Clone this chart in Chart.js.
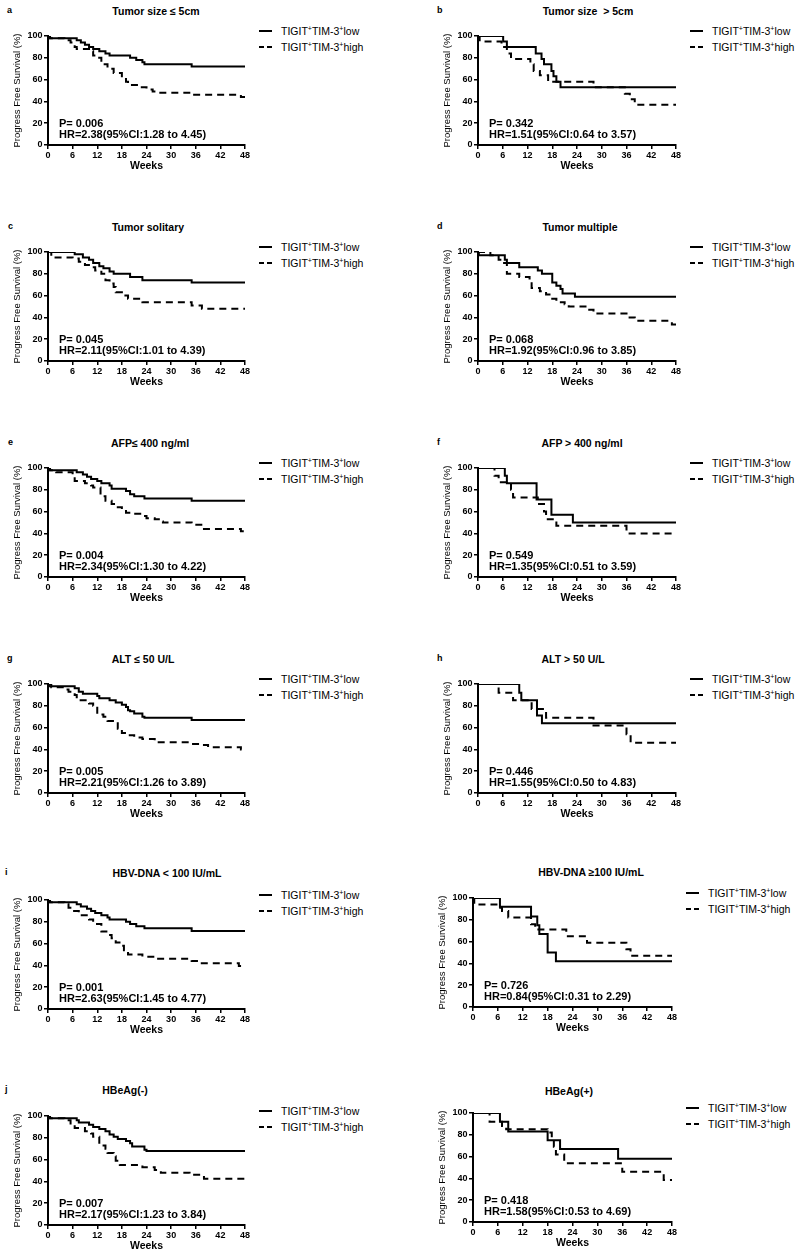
<!DOCTYPE html>
<html>
<head>
<meta charset="utf-8">
<script src="https://cdn.jsdelivr.net/npm/chart.js"></script>
<style>
  body { margin: 0; background: #fff; }
  #fig { position: relative; width: 800px; height: 1251px; font-family: "Liberation Sans", Arial, sans-serif; color: #000; }
  #fig canvas { position: absolute; }
  .txt { position: absolute; white-space: pre; line-height: 1; }
  .title { font-weight: bold; font-size: 10.5px; transform: translate(-50%, -50%); }
  .letter { font-weight: bold; font-size: 9px; transform: translateY(-50%); }
  .stat { font-weight: bold; font-size: 11px; transform: translateY(-50%); }
  .leg { font-size: 10.5px; transform: translateY(-50%); }
  .leg sup { font-size: 7px; vertical-align: 4px; line-height: 0; }
  .seg { position: absolute; height: 2px; background: #000; }
</style>
</head>
<body>
<div id="fig"></div>
<script>
// axis ticks
const weekTicks = [0, 6, 12, 18, 24, 30, 36, 42, 48]
const pfsTicks = [0, 20, 40, 60, 80, 100]

// panel texts
const panelTitles = ["Tumor size \u2264 5cm", "Tumor size  > 5cm", "Tumor solitary", "Tumor multiple",
  "AFP\u2264 400 ng/ml", "AFP > 400 ng/ml", "ALT \u2264 50 U/L", "ALT > 50 U/L",
  "HBV-DNA < 100 IU/mL", "HBV-DNA \u2265100 IU/mL", "HBeAg(-)", "HBeAg(+)"]
const panelLetters = ["a", "b", "c", "d", "e", "f", "g", "h", "i", "", "j", ""]
const pValues = ["0.006", "0.342", "0.045", "0.068", "0.004", "0.549", "0.005", "0.446", "0.001", "0.726", "0.007", "0.418"]
const hrTexts = ["2.38(95%CI:1.28 to 4.45)", "1.51(95%CI:0.64 to 3.57)", "2.11(95%CI:1.01 to 4.39)",
  "1.92(95%CI:0.96 to 3.85)", "2.34(95%CI:1.30 to 4.22)", "1.35(95%CI:0.51 to 3.59)",
  "2.21(95%CI:1.26 to 3.89)", "1.55(95%CI:0.50 to 4.83)", "2.63(95%CI:1.45 to 4.77)",
  "0.84(95%CI:0.31 to 2.29)", "2.17(95%CI:1.23 to 3.84)", "1.58(95%CI:0.53 to 4.69)"]

// Kaplan-Meier steps: [week, % progress free]
const sizeLe5Low = [[0,100],[0.3,98],[7,96],[8,94],[9,92],[10,90],[11,88],[12.5,86],[14,84],[15,82],[20,80],[21.5,78],[23,76],[23.5,74],[35,72],[48,72]]
const sizeLe5High = [[0,100],[0.5,98],[4,96],[5.5,94],[6.5,90],[7,88],[10,86],[11,82],[12,80],[13,74],[14.5,70],[16,66],[18,62],[19,58],[19.5,55],[22,53],[24,51],[25.5,49],[27,48],[35,46],[47,44],[48,44]]
const sizeGt5Low = [[0,100],[6.1,95],[7,90],[14,84],[15.4,79],[16,74],[17.8,68],[18.3,63],[19,58],[20,53],[48,53]]
const sizeGt5High = [[0,100],[0.4,95],[5.7,90],[7,84],[8,79],[12.7,74],[13.5,68],[15,64],[17,58],[28,53],[35.6,47],[36.8,42],[38,37],[48,37]]
const solitaryLow = [[0,100],[6.5,98],[8.5,95],[10,93],[11,90],[12.5,87],[13.5,85],[15,82],[16,80],[20,77],[23,74],[35,72],[48,72]]
const solitaryHigh = [[0,100],[0.8,95],[6,94],[7.5,91],[9,88],[10.5,86],[11.5,83],[13,80],[14,74],[15,71],[16,68],[16.5,63],[18,60],[19.5,57],[23,54],[35,51],[37.5,48],[48,48]]
const multipleLow = [[0,100],[0.2,97],[6.5,93],[7,90],[10,86],[14.5,83],[15.5,80],[18,72],[19,69],[20,66],[20.5,62],[23.5,59],[48,59]]
const multipleHigh = [[0,100],[3,97],[5,93],[6,90],[7,80],[10,77],[12.5,73],[13,67],[15,64],[16.5,61],[18,57],[19,54],[21,52],[22,50],[26.5,47],[28,43.5],[36,40],[38,37],[47,33.5],[48,33.5]]
const afpLe400Low = [[0,100],[0.3,98],[7,96],[8.5,94],[9.5,92],[10.5,90],[12,88],[13,86],[15,84],[15.5,81],[19,79],[20,76],[21,74],[23.5,72],[35,70],[48,70]]
const afpLe400High = [[0,100],[0.5,98],[2,96],[6,93],[6.5,88],[9,86],[10.5,84],[11,82],[12.8,74],[14,70],[15.5,67],[17,64],[18,62],[19,59],[21,58],[23,56],[24,54],[26,53],[27,51],[28,50],[35,48],[38,44],[47,42],[48,42]]
const afpGt400Low = [[0,100],[6.5,93],[7,86],[14.2,71],[17.8,57],[23,50],[48,50]]
const afpGt400High = [[0,100],[4,93],[5,87],[8,80],[8.5,73],[14.5,67],[16,60],[16.5,53],[19,47],[36,40],[48,40]]
const altLe50Low = [[0,100],[0.3,98],[6.5,96],[7.5,93],[8.5,91],[12,89],[12.5,87],[15,85],[16.5,83],[18,81],[19,79],[19.5,76],[20,75],[21,73],[23,70],[23.5,69],[35,67],[48,67]]
const altLe50High = [[0,100],[0.8,97],[4,95],[5,93],[6.5,90],[7,85],[10,82],[11,80],[12,72],[13.5,70],[14.5,66],[16.5,64],[17,59],[18,55],[19,53],[21,51],[23,49.5],[26,46.5],[35,45],[37,44],[39,42],[47,40],[48,40]]
const altGt50Low = [[0,100],[10,92],[10.5,85],[14.3,71],[15.5,64],[48,64]]
const altGt50High = [[0,100],[5,92],[8.5,85],[13,77],[16.5,69],[28,62],[36,54],[37,46],[48,46]]
const hbvLt100Low = [[0,100],[0.3,98],[7,96],[8,94],[9.5,92],[10.5,90],[11.5,88],[13,86],[14.5,84],[15,82],[19,80],[20,78],[21.5,76],[23.5,74],[35,71.5],[48,71.5]]
const hbvLt100High = [[0,100],[0.5,98],[4,96],[5,93],[6,90],[7.5,86],[10,82],[11,78],[13,71],[14.5,68],[15.5,65],[16.5,61],[18,58],[18.5,54],[19.5,50],[23,48],[26,46],[35,44],[37,42],[46.5,39.5],[48,39.5]]
const hbvGe100Low = [[0,100],[6.5,92],[14,83],[15.5,75],[16,67],[18,50],[20,42],[48,42]]
const hbvGe100High = [[0,100],[0.3,94],[6,91],[7,88],[8.5,82],[14,76],[15,71],[22.5,65],[27.5,59],[37,53],[38,47],[48,47]]
const hbeagNegLow = [[0,100],[0.3,98],[7,96],[7.5,94],[10,92],[11,90],[12.5,88],[14,86],[15,83],[16,81],[17,79],[19,77],[20,75],[20.5,72],[23.5,69],[24,68],[48,68]]
const hbeagNegHigh = [[0,100],[0.5,98],[4,96],[5.5,92],[6.5,89],[9,86],[10.5,84],[11,81],[12.5,73],[14,70],[14.5,66],[16,63],[16.5,59],[17.5,55],[23,53],[26,50.5],[27.5,48],[34.5,46],[38,42.5],[48,42.5]]
const hbeagPosLow = [[0,100],[6.5,92],[8.5,83],[18,75],[21,67],[35,58],[48,58]]
const hbeagPosHigh = [[0,100],[4,92],[7,88],[8,85],[18,82],[19,77],[19.5,69],[20,62],[22,54],[36,46],[46,38.5],[48,38.5]]

const lowCurves = [sizeLe5Low, sizeGt5Low, solitaryLow, multipleLow, afpLe400Low, afpGt400Low,
  altLe50Low, altGt50Low, hbvLt100Low, hbvGe100Low, hbeagNegLow, hbeagPosLow]
const highCurves = [sizeLe5High, sizeGt5High, solitaryHigh, multipleHigh, afpLe400High, afpGt400High,
  altLe50High, altGt50High, hbvLt100High, hbvGe100High, hbeagNegHigh, hbeagPosHigh]

// page layout: plot-area edges and title centre for each panel
const layout = [
  { l: 48, r: 245, top: 36, tx: 156, ty: 11, lx: 7 },
  { l: 478, r: 676, top: 36, tx: 588, ty: 11, lx: 437 },
  { l: 48, r: 245, top: 252, tx: 148, ty: 227, lx: 8 },
  { l: 478, r: 676, top: 252, tx: 580, ty: 227, lx: 437 },
  { l: 48, r: 245, top: 468, tx: 150, ty: 443, lx: 8 },
  { l: 478, r: 676, top: 468, tx: 582, ty: 443, lx: 437 },
  { l: 48, r: 245, top: 684, tx: 143, ty: 659, lx: 7 },
  { l: 478, r: 676, top: 684, tx: 573, ty: 659, lx: 437 },
  { l: 48, r: 245, top: 900, tx: 167, ty: 873, lx: 5 },
  { l: 473, r: 672, top: 898, tx: 591, ty: 872, lx: 0 },
  { l: 48, r: 245, top: 1116, tx: 125, ty: 1090, lx: 5 },
  { l: 473, r: 672, top: 1113, tx: 569, ty: 1091, lx: 0 },
]
const PLOT_H = 109
const FONT = '"Liberation Sans", Arial, sans-serif'

const fig = document.getElementById("fig")

function addText(html, x, y, cls) {
  const el = document.createElement("div")
  el.className = "txt " + cls
  el.innerHTML = html
  el.style.left = x + "px"
  el.style.top = y + "px"
  fig.appendChild(el)
}

function addSeg(x, y, w) {
  const el = document.createElement("div")
  el.className = "seg"
  el.style.left = x + "px"
  el.style.top = (y - 1) + "px"
  el.style.width = w + "px"
  fig.appendChild(el)
}

const toXY = pts => pts.map(p => ({ x: p[0], y: p[1] }))

layout.forEach((b, i) => {
  const bottom = b.top + PLOT_H
  const left = b.l - 48
  const top = b.top - 8
  const cv = document.createElement("canvas")
  cv.width = b.r - left + 10
  cv.height = 8 + PLOT_H + 30
  cv.style.left = left + "px"
  cv.style.top = top + "px"
  fig.appendChild(cv)

  const axisCommon = {
    type: "linear",
    border: { display: true, color: "#000", width: 2 },
    grid: { drawOnChartArea: false, drawTicks: true, color: "#000", lineWidth: 1.5, tickLength: 4 },
  }

  new Chart(cv, {
    type: "line",
    data: {
      datasets: [
        { label: "low", data: toXY(lowCurves[i]), stepped: true, borderColor: "#000", borderWidth: 2, pointRadius: 0, fill: false },
        { label: "high", data: toXY(highCurves[i]), stepped: true, borderColor: "#000", borderWidth: 2, borderDash: [7, 5], pointRadius: 0, fill: false },
      ],
    },
    options: {
      responsive: false,
      animation: false,
      devicePixelRatio: 1,
      layout: { padding: { left: 0, top: 8, right: 10, bottom: 0 } },
      plugins: { legend: { display: false }, tooltip: { enabled: false } },
      scales: {
        x: {
          ...axisCommon,
          min: 0, max: 48,
          afterBuildTicks: s => { s.ticks = weekTicks.map(v => ({ value: v })) },
          afterFit: s => { s.height = 30 },
          ticks: { color: "#000", font: { family: FONT, size: 9, weight: "bold" }, padding: 1, maxRotation: 0, autoSkip: false },
          title: { display: true, text: "Weeks", color: "#000", font: { family: FONT, size: 10.5, weight: "bold" }, padding: { top: 0, bottom: 3 } },
        },
        y: {
          ...axisCommon,
          min: 0, max: 100,
          afterBuildTicks: s => { s.ticks = pfsTicks.map(v => ({ value: v })) },
          afterFit: s => { s.width = 48 },
          ticks: { color: "#000", font: { family: FONT, size: 9, weight: "bold" }, padding: 1.5 },
          title: { display: true, text: "Progress Free Survival (%)", color: "#000", font: { family: FONT, size: 9.5 }, padding: { top: 12, bottom: 0 } },
        },
      },
    },
  })

  addText(panelTitles[i], b.tx, b.ty, "title")
  if (panelLetters[i]) addText(panelLetters[i], b.lx, b.ty - 1, "letter")
  addText("P= " + pValues[i], b.l + 11, bottom - 22, "stat")
  addText("HR=" + hrTexts[i], b.l + 11, bottom - 11, "stat")

  // legend
  const lx = b.r + 14
  addSeg(lx, b.top - 5, 13)
  addSeg(lx, b.top + 11, 5)
  addSeg(lx + 8, b.top + 11, 5)
  addText("TIGIT<sup>+</sup>TIM-3<sup>+</sup>low", lx + 22, b.top - 5, "leg")
  addText("TIGIT<sup>+</sup>TIM-3<sup>+</sup>high", lx + 22, b.top + 11, "leg")
})
</script>
</body>
</html>
